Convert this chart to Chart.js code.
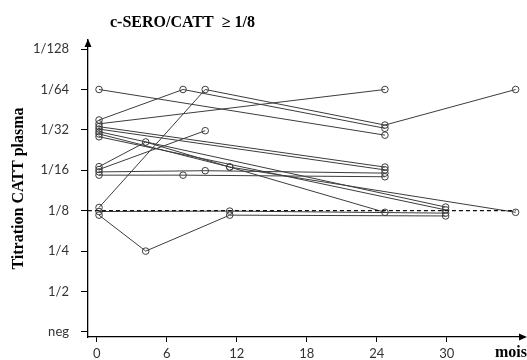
<!DOCTYPE html>
<html>
<head>
<meta charset="utf-8">
<script src="https://cdn.jsdelivr.net/npm/chart.js@4"></script>
<style>
html, body { margin: 0; padding: 0; background: #fff; }
#wrap { width: 527px; height: 360px; }
</style>
</head>
<body>
<div id="wrap"><canvas id="chart"></canvas></div>
<script>
// titre index: 0 = neg, 1 = 1/2 ... 7 = 1/128
const titreLabels = ['neg', '1/2', '1/4', '1/8', '1/16', '1/32', '1/64', '1/128'];
const monthTicks = [0, 6, 12, 18, 24, 30];

// one row per patient: months of follow-up and titre read at each visit
const patientMonths = [
    [0.2, 24.7],
    [0.2, 7.4, 24.7],
    [0.2, 24.7],
    [0.2, 9.3, 24.7, 35.9],
    [0.2, 24.7],
    [0.2, 24.7],
    [0.2, 29.9],
    [0.2, 11.4, 35.9],
    [0.2, 29.9],
    [0.2, 4.2, 11.4, 24.7],
    [0.2, 9.3],
    [0.2, 9.3, 24.7],
    [0.2, 7.4, 24.7],
    [0.2, 11.4, 29.9],
    [0.2, 4.2, 11.4, 29.9]
];
const patientTitres = [
    [6, 4.87],
    [5.245, 6, 5.04],
    [5.15, 6],
    [3.08, 6, 5.12, 6],
    [5.08, 4.08],
    [5.02, 4.01],
    [4.955, 3.09],
    [4.9, 4.08, 2.96],
    [4.83, 3.02],
    [4.09, 4.7, 4.08, 2.96],
    [4.02, 4.98],
    [3.96, 3.99, 3.93],
    [3.88, 3.88, 3.84],
    [2.98, 2.99, 2.94],
    [2.89, 2.0, 2.89, 2.87]
];

const thresholdTitre = 3;
const thresholdMonths = [-0.75, 35.9];

const lineColor = '#3c3c3c';
const serif = "'Liberation Serif', 'Times New Roman', serif";

const datasets = [{
    data: thresholdMonths.map(m => ({ x: m, y: thresholdTitre })),
    borderColor: '#111',
    borderWidth: 1.2,
    borderDash: [4, 3],
    pointRadius: 0,
    showLine: true
}];

patientMonths.forEach((months, i) => {
    datasets.push({
        data: months.map((m, j) => ({ x: m, y: patientTitres[i][j] })),
        borderColor: lineColor,
        borderWidth: 1,
        pointRadius: 3.3,
        pointBorderWidth: 1,
        pointBorderColor: lineColor,
        pointBackgroundColor: 'rgba(0,0,0,0)',
        showLine: true,
        tension: 0
    });
});

const extras = {
    id: 'extras',
    afterDraw(chart) {
        const { ctx, chartArea: a } = chart;
        ctx.save();
        ctx.fillStyle = '#000';
        // arrow heads
        ctx.beginPath();
        ctx.moveTo(a.left, a.top - 1);
        ctx.lineTo(a.left - 3.5, a.top + 7);
        ctx.lineTo(a.left + 3.5, a.top + 7);
        ctx.closePath();
        ctx.fill();
        ctx.beginPath();
        ctx.moveTo(a.right + 6, a.bottom);
        ctx.lineTo(a.right - 2, a.bottom - 3.5);
        ctx.lineTo(a.right - 2, a.bottom + 3.5);
        ctx.closePath();
        ctx.fill();

        ctx.font = 'bold 16px ' + serif;
        ctx.textBaseline = 'alphabetic';
        ctx.textAlign = 'left';
        ctx.fillText('c-SERO/CATT  \u2265 1/8', 110, 27);
        ctx.textAlign = 'right';
        ctx.fillText('mois', 527, 357);
        ctx.restore();
    }
};

new Chart(document.getElementById('chart'), {
    type: 'scatter',
    data: { datasets: datasets },
    options: {
        responsive: true,
        maintainAspectRatio: false,
        animation: false,
        events: [],
        layout: { padding: { top: 40, right: 6, bottom: 0, left: 0 } },
        plugins: { legend: { display: false }, tooltip: { enabled: false } },
        scales: {
            x: {
                type: 'linear',
                min: -0.745,
                max: 36.36,
                afterFit: axis => { axis.height = 23; },
                afterBuildTicks: axis => { axis.ticks = monthTicks.map(v => ({ value: v })); },
                grid: { drawOnChartArea: false, drawTicks: true, tickLength: 5, color: '#000' },
                border: { color: '#000', width: 1.3 },
                ticks: {
                    padding: 4,
                    color: '#333',
                    font: { family: 'Lato', size: 13 },
                    maxRotation: 0
                }
            },
            y: {
                type: 'linear',
                min: -0.126,
                max: 7.225,
                afterFit: axis => { axis.width = 88; },
                afterBuildTicks: axis => { axis.ticks = titreLabels.map((_, i) => ({ value: i })); },
                grid: { drawOnChartArea: false, drawTicks: true, tickLength: 7, color: '#000' },
                border: { color: '#000', width: 1.3 },
                ticks: {
                    padding: 12,
                    color: '#333',
                    font: { family: 'Lato', size: 13 },
                    callback: v => titreLabels[v]
                },
                title: {
                    display: true,
                    text: 'Titration CATT plasma',
                    color: '#000',
                    padding: { top: 9, bottom: 0 },
                    font: { family: serif, size: 16, weight: 'bold' }
                }
            }
        }
    },
    plugins: [extras]
});
</script>
</body>
</html>
